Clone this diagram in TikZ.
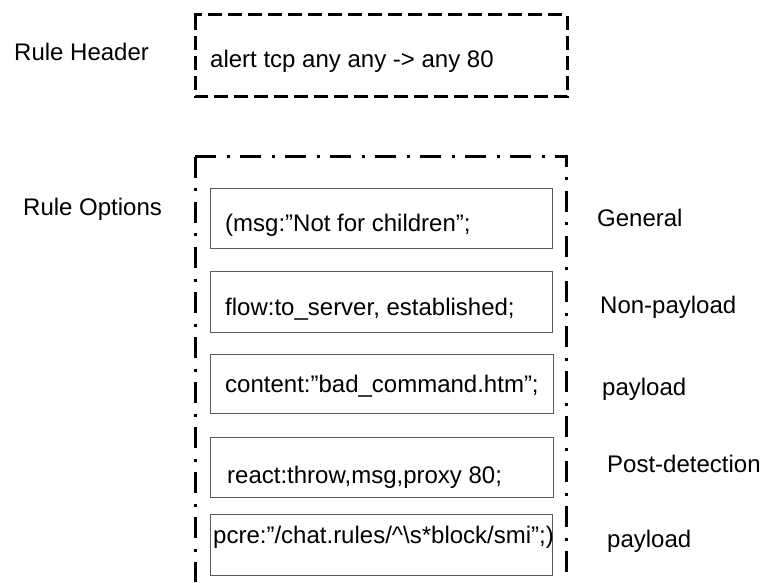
\documentclass[tikz,border=0pt]{standalone}
\usepackage{fontspec}
\setmainfont{Liberation Sans}
\begin{document}
\begin{tikzpicture}[x=1pt,y=1pt,
  lbl/.style={anchor=base west, inner sep=0pt, font=\fontsize{24}{29}\selectfont},
  optbox/.style={draw=black!65, line width=1.2pt, anchor=north west, inner sep=0pt,
                 minimum width=342pt, minimum height=60pt},
  hdrline/.style={line width=3pt, dash pattern=on 14pt off 6pt},
  optline/.style={line width=3pt, dash pattern=on 21pt off 10.5pt on 3pt off 10.5pt}]
\useasboundingbox (0,0) rectangle (763,582);

% rule header frame
\coordinate (h0) at (195,560);
\coordinate (htl) at (195,567);
\coordinate (htr) at (567,567);
\coordinate (hbr) at (567,485);
\coordinate (hbl) at (195,485);
\draw[hdrline] (h0) -- (htl) -- (htr) -- (hbr) -- (hbl) -- cycle;

% rule options frame (open at the bottom)
\coordinate (otl) at (195,425);
\coordinate (otr) at (566,425);
\coordinate (obl) at (195,0);
\coordinate (obr) at (566,0);
\draw[optline] (otl) -- (obl);
\draw[optline] (otl) -- (otr) -- (obr);

% option boxes
\node[optbox] (b1) at (210,394) {};
\node[optbox, minimum height=61pt] (b2) at (210,311) {};
\node[optbox, minimum width=343pt, minimum height=59pt] (b3) at (210,228) {};
\node[optbox, minimum width=343pt] (b4) at (210,145) {};
\node[optbox, minimum height=61pt] (b5) at (210,68) {};

% texts
\node[lbl] (hdr)  at (14,521) {Rule Header};
\node[lbl] (rule) at (210,514) {alert tcp any any -> any 80};
\node[lbl] (opts) at (23,366) {Rule Options};

\node[lbl] (t1) at (225,350) {(msg:”Not for children”;};
\node[lbl] (t2) at (225,267) {flow:to\_server, established;};
\node[lbl] (t3) at (225,190) {content:”bad\_command.htm”;};
\node[lbl] (t4) at (227,99)  {react:throw,msg,proxy 80;};
\node[lbl] (t5) at (213,39)  {pcre:”/chat.rules/\textasciicircum\textbackslash s*block/smi”;)};

\node[lbl] (c1) at (597,355) {General};
\node[lbl] (c2) at (600,269) {Non-payload};
\node[lbl] (c3) at (602,187) {payload};
\node[lbl] (c4) at (607,110) {Post-detection};
\node[lbl] (c5) at (607,35)  {payload};
\end{tikzpicture}
\end{document}
